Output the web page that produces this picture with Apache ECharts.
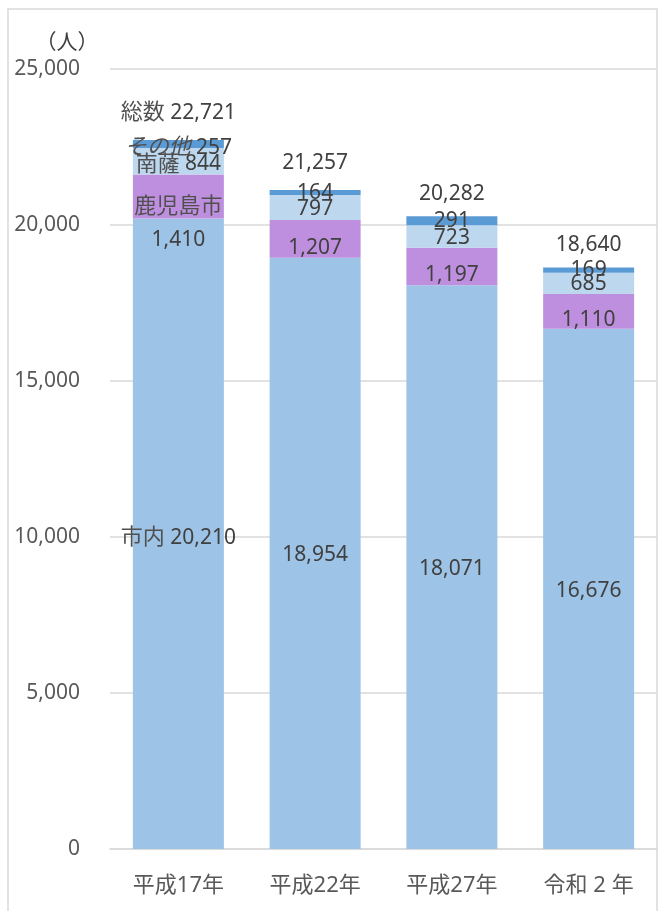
<!DOCTYPE html>
<html lang="ja">
<head>
<meta charset="utf-8">
<title>人口の推移</title>
<script src="https://cdn.jsdelivr.net/npm/echarts@6/dist/echarts.min.js"></script>
<style>
	html,body{margin:0;padding:0;background:#fff;}
	#chart{width:659px;height:911px;}
</style>
</head>
<body>
<div id="chart"></div>
<script>
	// データ
	var categories=['平成17年','平成22年','平成27年','令和 2 年'];
	var shinai=[20210,18954,18071,16676];     // 市内
	var kagoshima=[1410,1207,1197,1110];      // 鹿児島市
	var nansatsu=[844,797,723,685];           // 南薩
	var sonota=[257,164,291,169];             // その他
	var totals=[22721,21257,20282,18640];     // 総数
	var yMin=0, yMax=25000, yStep=5000;

	var font="'Noto Sans','Noto Sans CJK JP',sans-serif";
	var labelColor='#404040';

	function fmt(n){
		return String(n).replace(/\B(?=(\d{3})+(?!\d))/g,',');
	}

	// 最初の年だけ系列名を付ける
	function segLabel(p){
		if(p.dataIndex===0){
			var st=p.seriesName==='その他'?'ni':'n';
			return '{'+st+'|'+p.seriesName+'} {v|'+fmt(p.value)+'}';
		}
		return fmt(p.value);
	}

	var rich={
		n:{fontSize:22,color:'#505050',fontFamily:font,lineHeight:26,verticalAlign:'middle'},
		ni:{fontSize:22,color:'#505050',fontFamily:font,fontStyle:'italic',lineHeight:26,verticalAlign:'middle'},
		v:{fontSize:21,color:labelColor,fontFamily:font,lineHeight:26,verticalAlign:'middle'},
		n2:{fontSize:22,color:'#505050',fontFamily:font,lineHeight:34},
		v2:{fontSize:21,color:labelColor,fontFamily:font,lineHeight:34}
	};

	function barSeries(name,data,color,dy,dy0){
		return {
			name:name,
			type:'bar',
			stack:'all',
			barWidth:91,
			barGap:'-100%',
			data:data.map(function(v,i){
				if(i!==0) return v;
				return {value:v,label:{offset:[0,dy0]}};
			}),
			itemStyle:{color:color},
			label:{
				show:true,
				position:'inside',
				color:labelColor,
				fontFamily:font,
				fontSize:21,
				offset:[0,dy],
				formatter:segLabel,
				rich:rich
			}
		};
	}

	var kago=barSeries('鹿児島市',kagoshima,'#BF8FDF',9,27);
	kago.data[0].label.formatter=function(p){return '{n2|'+p.seriesName+'}\n{v2|'+fmt(p.value)+'}';};

	var series=[
		barSeries('市内',shinai,'#9DC3E6',2,4),
		kago,
		barSeries('南薩',nansatsu,'#BDD7EE',1,3),
		barSeries('その他',sonota,'#5B9BD5',0,4),
		{
			name:'総数',
			type:'bar',
			barWidth:91,
			barGap:'-100%',
			silent:true,
			itemStyle:{color:'rgba(255,255,255,0)'},
			data:totals.map(function(v,i){
				if(i!==0) return v;
				return {value:v,label:{offset:[0,-2]}};
			}),
			label:{
				show:true,
				position:'top',
				distance:12,
				color:labelColor,
				fontFamily:font,
				fontSize:21,
				formatter:segLabel,
				rich:rich
			},
			z:1
		}
	];

	var option={
		animation:false,
		textStyle:{fontFamily:font},
		grid:{left:110,right:2,top:69,bottom:62},
		xAxis:{
			type:'category',
			data:categories,
			axisLine:{show:true,lineStyle:{color:'#D9D9D9',width:1.5}},
			axisTick:{show:false},
			axisLabel:{color:'#595959',fontSize:22,margin:26,fontFamily:font}
		},
		yAxis:{
			type:'value',
			min:yMin,
			max:yMax,
			interval:yStep,
			axisLine:{show:false},
			axisTick:{show:false},
			splitLine:{lineStyle:{color:'#D9D9D9',width:1.5}},
			axisLabel:{color:'#595959',fontSize:21,margin:30,fontFamily:font,formatter:function(v){return fmt(v);}}
		},
		series:series,
		graphic:[
			{type:'rect',shape:{x:8,y:9,width:649,height:920},style:{fill:'none',stroke:'#D9D9D9',lineWidth:1.5},silent:true},
			{type:'text',x:67,y:43,style:{text:'（人）',fill:'#404040',font:'21px '+font,textAlign:'center',textVerticalAlign:'middle'}}
		]
	};

	var myChart=echarts.init(document.getElementById('chart'));
	myChart.setOption(option);
</script>
</body>
</html>
